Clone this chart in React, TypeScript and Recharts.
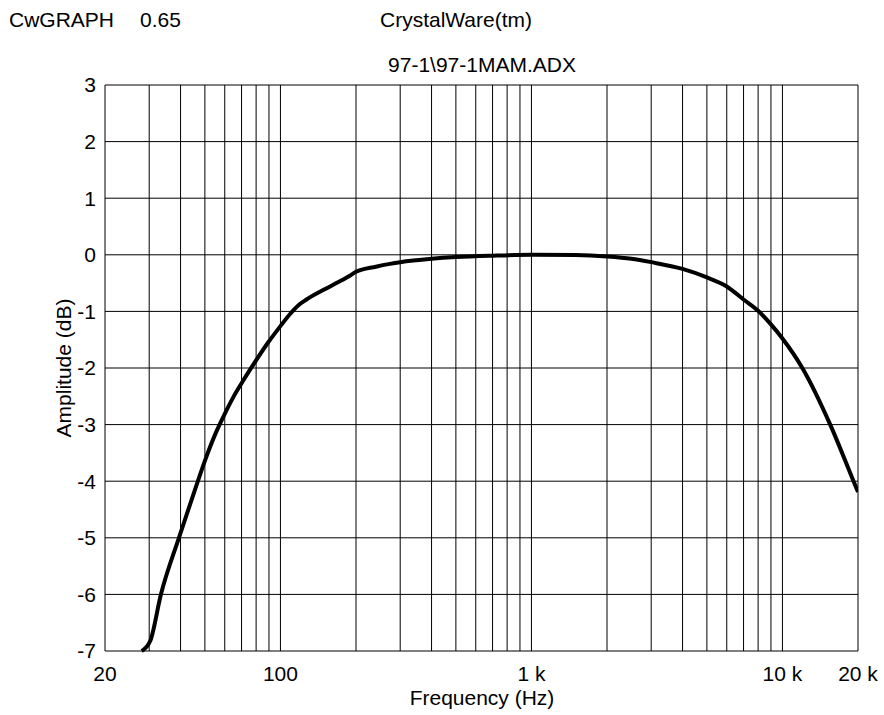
import { LineChart, Line, XAxis, YAxis, CartesianGrid } from 'recharts'

// frequency response (Hz, dB)
const freqs = [28, 30.3, 33.4, 39.4, 46.7, 50, 55.6, 60, 65, 70, 76.7, 89.3, 100, 109, 118, 127, 150, 167, 189, 200, 240, 273, 300, 400, 500, 700, 1000, 1500, 2000, 2500, 3000, 4000, 5000, 6000, 7000, 8000, 9000, 10000, 12000, 15500, 19200, 20000]
const amps = [-7.0, -6.82, -6.0, -5.0, -4.02, -3.64, -3.12, -2.81, -2.51, -2.27, -1.99, -1.55, -1.26, -1.05, -0.89, -0.79, -0.61, -0.5, -0.37, -0.3, -0.21, -0.16, -0.13, -0.07, -0.04, -0.015, 0, -0.005, -0.03, -0.07, -0.13, -0.25, -0.4, -0.56, -0.79, -0.99, -1.23, -1.48, -2.0, -3.0, -4.0, -4.19]

const xGrid = [20, 30, 40, 50, 60, 70, 80, 90, 100, 200, 300, 400, 500, 600, 700, 800, 900, 1000, 2000, 3000, 4000, 5000, 6000, 7000, 8000, 9000, 10000, 20000]
const xLabels: Record<number, string> = { 20: '20', 100: '100', 1000: '1 k', 10000: '10 k', 20000: '20 k' }
const yTicks = [-7, -6, -5, -4, -3, -2, -1, 0, 1, 2, 3]

const data = freqs.map((f, i) => ({ f, db: amps[i] }))

const FONT = '"Liberation Sans", Arial, sans-serif'
const FS = 21

export default function App() {
  const txt = { position: 'absolute' as const, fontFamily: FONT, fontSize: FS, color: '#000', whiteSpace: 'nowrap' as const, lineHeight: 1 }
  return (
    <div style={{ position: 'absolute', left: 0, top: 0, width: 884, height: 715, background: '#fff' }}>
      <div style={{ ...txt, left: 9, top: 9 }}>CwGRAPH</div>
      <div style={{ ...txt, left: 140, top: 9 }}>0.65</div>
      <div style={{ ...txt, left: 456, top: 19, transform: 'translate(-50%, -50%)' }}>CrystalWare(tm)</div>
      <div style={{ ...txt, left: 482, top: 64, transform: 'translate(-50%, -50%)' }}>{'97-1\\97-1MAM.ADX'}</div>
      <div style={{ ...txt, left: 482, top: 697, transform: 'translate(-50%, -50%)' }}>Frequency (Hz)</div>
      <div style={{ ...txt, left: 63, top: 368, transform: 'translate(-50%, -50%) rotate(-90deg)' }}>Amplitude (dB)</div>
      <LineChart width={884} height={715} data={data} margin={{ top: 85, right: 26, bottom: 34, left: 65 }}>
        <CartesianGrid stroke="#000" strokeWidth={1} />
        <XAxis
          dataKey="f" type="number" scale="log" domain={[20, 20000]} allowDataOverflow
          ticks={xGrid} interval={0} height={30}
          tickFormatter={(v: number) => xLabels[v] ?? ''}
          axisLine={false} tickLine={false} tickMargin={9}
          tick={{ fontSize: FS, fill: '#000', fontFamily: FONT }}
        />
        <YAxis
          type="number" domain={[-7, 3]} ticks={yTicks} interval={0} width={40}
          axisLine={false} tickLine={false} tickMargin={3}
          tick={{ fontSize: FS, fill: '#000', fontFamily: FONT }}
        />
        <Line type="monotone" dataKey="db" stroke="#000" strokeWidth={4} dot={false} isAnimationActive={false} />
      </LineChart>
    </div>
  )
}
